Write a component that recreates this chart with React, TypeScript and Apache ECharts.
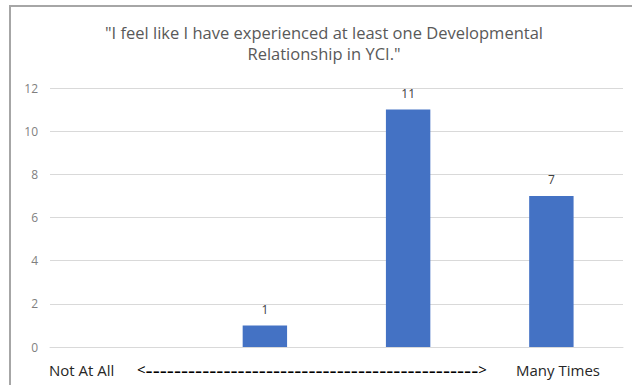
import React, { useEffect, useRef } from "react";
import * as echarts from "echarts";

const categories = ["1", "2", "3", "4"];
const counts = [0, 1, 11, 7];
const yTicks = { min: 0, max: 12, interval: 2 };
const titleLines = [
  "\"I feel like I have experienced at least one Developmental",
  "Relationship in YCI.\"",
];
const scaleLeft = "Not At All";
const scaleDashes = "-".repeat(47);
const scaleRight = "Many Times";

export default function App() {
  const ref = useRef<HTMLDivElement>(null);
  useEffect(() => {
    if (!ref.current) return;
    const chart = echarts.init(ref.current, undefined, { renderer: "svg" });
    const font = "'Open Sans', sans-serif";
    chart.setOption({
      animation: false,
      backgroundColor: "#ffffff",
      title: {
        text: titleLines.join("\n"),
        left: 324,
        top: 22,
        padding: 0,
        textAlign: "center",
        textStyle: {
          fontFamily: font,
          fontSize: 16.5,
          fontWeight: "normal",
          color: "#595959",
          lineHeight: 21,
        },
      },
      grid: { left: 50, right: 9, top: 88, bottom: 38 },
      xAxis: {
        type: "category",
        data: categories,
        axisLine: { show: true, lineStyle: { color: "#d9d9d9", width: 1 } },
        axisTick: { show: false },
        axisLabel: { show: false },
      },
      yAxis: {
        type: "value",
        min: yTicks.min,
        max: yTicks.max,
        interval: yTicks.interval,
        axisLine: { show: false },
        axisTick: { show: false },
        axisLabel: {
          fontFamily: font,
          fontSize: 12,
          color: "#7f7f7f",
          margin: 12,
        },
        splitLine: { lineStyle: { color: "#d9d9d9", width: 1 } },
      },
      series: [
        {
          type: "bar",
          data: counts,
          barWidth: "31%",
          itemStyle: { color: "#4472C4" },
          label: {
            show: true,
            position: "top",
            distance: 10,
            fontFamily: font,
            fontSize: 12,
            color: "#404040",
            formatter: (p: any) => (p.value > 0 ? String(p.value) : ""),
          },
        },
      ],
      graphic: [
        {
          type: "rect",
          shape: { x: 10, y: 6, width: 640, height: 420 },
          style: { fill: "none", stroke: "#a6a6a6", lineWidth: 2 },
          silent: true,
        },
        {
          type: "text",
          x: 49,
          y: 370,
          style: {
            text: scaleLeft,
            fontFamily: font,
            fontSize: 15,
            fill: "#262626",
            verticalAlign: "middle",
            align: "left",
          },
        },
        {
          type: "text",
          x: 137,
          y: 369,
          style: {
            text: "{a|<}{d|" + scaleDashes + "}{a|>}",
            verticalAlign: "middle",
            align: "left",
            rich: {
              a: {
                fontFamily: font,
                fontSize: 15,
                color: "#595959",
                verticalAlign: "middle",
                lineHeight: 22,
              },
              d: {
                fontFamily: font,
                fontSize: 22,
                color: "#404040",
                verticalAlign: "middle",
                lineHeight: 22,
              },
            },
          },
        },
        {
          type: "text",
          x: 558,
          y: 370,
          style: {
            text: scaleRight,
            fontFamily: font,
            fontSize: 15,
            fill: "#262626",
            verticalAlign: "middle",
            align: "center",
          },
        },
      ],
    });
    return () => chart.dispose();
  }, []);
  return (
    <div
      ref={ref}
      style={{ position: "absolute", left: 0, top: 0, width: 632, height: 385 }}
    />
  );
}
